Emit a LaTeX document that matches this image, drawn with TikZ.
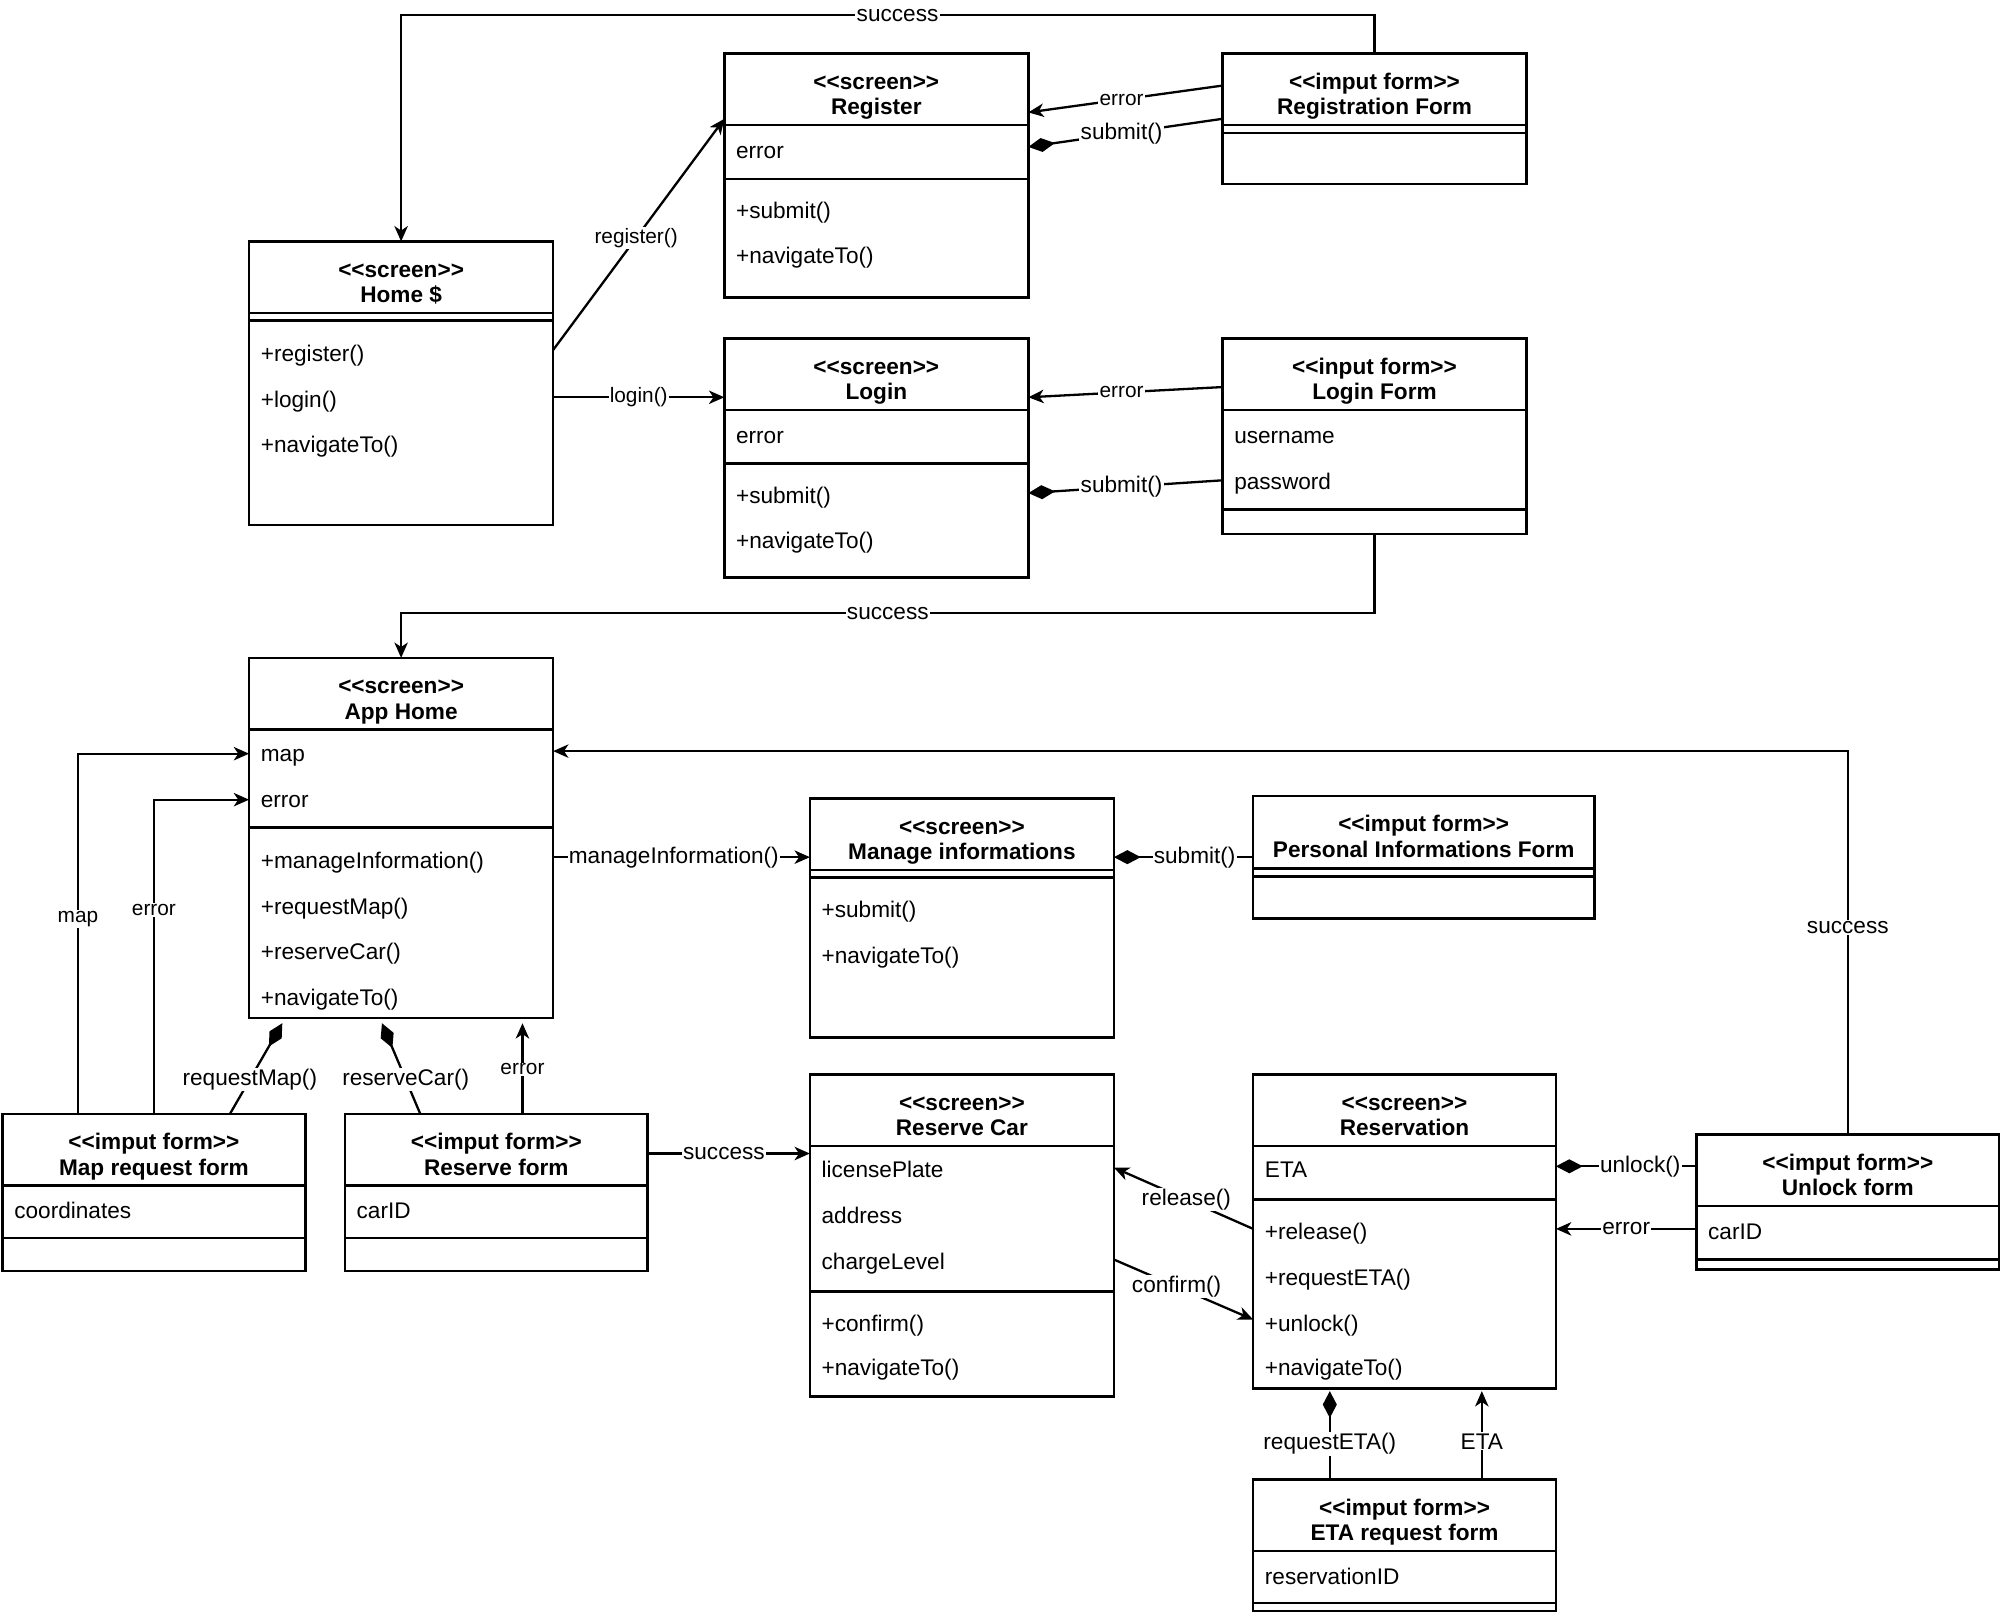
\documentclass[tikz,border=0pt]{standalone}
\usepackage{fontspec}
\setmainfont{Liberation Sans}
\usetikzlibrary{arrows.meta}
\newcommand\stereo[1]{<\kern0pt<#1>\kern0pt>}
\newcommand\fsmain{\fontsize{17.7}{21}\selectfont}
\newcommand\fslbl{\fontsize{16.3}{19}\selectfont}
\newcommand\umlbox[7]{%
  \node[box, minimum width=#4pt, minimum height=#5pt] (#1) at (#2,#3) {};
  \node[ttl] (#1-s) at ({#2+#4/2},{#3+28}) {\stereo{#6}};
  \node[ttl] (#1-n) at ({#2+#4/2},{#3+48}) {#7};
}
\newcommand\sepl[3]{\draw[sep] (#1,#3) -- ++(#2,0);}
\newcommand\row[4]{\node[item] (#1) at ({#2+9},{#3+6}) {#4};}
\begin{document}
\begin{tikzpicture}[x=1pt,y=-1pt,
  box/.style={draw, line width=2pt, anchor=north west, inner sep=0pt, outer sep=0pt},
  sep/.style={line width=2pt},
  ttl/.style={font=\bfseries\fsmain, anchor=base, inner sep=0pt},
  item/.style={font=\fsmain, anchor=base west, inner sep=0pt},
  conn/.style={line width=1.8pt},
  arr/.style={conn, -{Stealth[length=12pt,width=10.5pt,inset=3.5pt]}},
  dia/.style={conn, -{Diamond[length=21pt,width=11pt]}},
  lbl/.style={fill=white, inner sep=1pt, font=\fsmain},
  slbl/.style={fill=white, inner sep=1pt, font=\fslbl},
]
\useasboundingbox (0,0) rectangle (1568,1265);

% ---------- classes ----------
\umlbox{home}{195}{189}{238}{222}{screen}{Home \$}
\sepl{195}{238}{245}\sepl{195}{238}{251}
\row{home-1}{195}{277}{+register()}
\row{home-2}{195}{313}{+login()}
\row{home-3}{195}{348}{+navigateTo()}

\umlbox{reg}{567}{42}{238}{191}{screen}{Register}
\sepl{567}{238}{98}\sepl{567}{238}{140}
\row{reg-1}{567}{118}{error}
\row{reg-2}{567}{165}{+submit()}
\row{reg-3}{567}{200}{+navigateTo()}

\umlbox{rf}{957}{42}{238}{102}{imput form}{Registration Form}
\sepl{957}{238}{98}\sepl{957}{238}{104}

\umlbox{login}{567}{265}{238}{187}{screen}{Login}
\sepl{567}{238}{321}\sepl{567}{238}{363}
\row{login-1}{567}{341}{error}
\row{login-2}{567}{388}{+submit()}
\row{login-3}{567}{423}{+navigateTo()}

\umlbox{lf}{957}{265}{238}{153}{input form}{Login Form}
\sepl{957}{238}{321}\sepl{957}{238}{399}
\row{lf-1}{957}{341}{username}
\row{lf-2}{957}{377}{password}

\umlbox{app}{195}{515}{238}{282}{screen}{App Home}
\sepl{195}{238}{571}\sepl{195}{238}{648}
\row{app-1}{195}{590}{map}
\row{app-2}{195}{626}{error}
\row{app-3}{195}{674}{+manageInformation()}
\row{app-4}{195}{710}{+requestMap()}
\row{app-5}{195}{745}{+reserveCar()}
\row{app-6}{195}{781}{+navigateTo()}

\umlbox{mi}{634}{625}{238}{187}{screen}{Manage informations}
\sepl{634}{238}{681}\sepl{634}{238}{687}
\row{mi-1}{634}{712}{+submit()}
\row{mi-2}{634}{748}{+navigateTo()}

\umlbox{pif}{981}{623}{267}{96}{imput form}{Personal Informations Form}
\sepl{981}{267}{680}\sepl{981}{267}{686}

\umlbox{mrf}{2}{872}{237}{123}{imput form}{Map request form}
\sepl{2}{237}{928}\sepl{2}{237}{969}
\row{mrf-1}{2}{948}{coordinates}

\umlbox{rsf}{270}{872}{237}{123}{imput form}{Reserve form}
\sepl{270}{237}{928}\sepl{270}{237}{969}
\row{rsf-1}{270}{948}{carID}

\umlbox{rc}{634}{841}{238}{252}{screen}{Reserve Car}
\sepl{634}{238}{897}\sepl{634}{238}{1011}
\row{rc-1}{634}{916}{licensePlate}
\row{rc-2}{634}{952}{address}
\row{rc-3}{634}{988}{chargeLevel}
\row{rc-4}{634}{1036}{+confirm()}
\row{rc-5}{634}{1071}{+navigateTo()}

\umlbox{rsv}{981}{841}{237}{246}{screen}{Reservation}
\sepl{981}{237}{897}\sepl{981}{237}{939}
\row{rsv-1}{981}{916}{ETA}
\row{rsv-2}{981}{964}{+release()}
\row{rsv-3}{981}{1000}{+requestETA()}
\row{rsv-4}{981}{1036}{+unlock()}
\row{rsv-5}{981}{1071}{+navigateTo()}

\umlbox{ulf}{1328}{888}{237}{106}{imput form}{Unlock form}
\sepl{1328}{237}{944}\sepl{1328}{237}{986}
\row{ulf-1}{1328}{964}{carID}

\umlbox{etaf}{981}{1158}{237}{103}{imput form}{ETA request form}
\sepl{981}{237}{1214}\sepl{981}{237}{1255}
\row{etaf-1}{981}{1234}{reservationID}

% ---------- helper coordinates ----------
\coordinate (m1) at ([xshift=59pt]mrf.north west);
\coordinate (m3) at ([xshift=178pt]mrf.north west);
\coordinate (r1) at ([xshift=59pt]rsf.north west);
\coordinate (r3) at ([xshift=139pt]rsf.north west);
\coordinate (a1) at ([shift={(26pt,-4pt)}]app.south west);
\coordinate (a2) at ([shift={(104pt,-4pt)}]app.south west);
\coordinate (a3) at ([shift={(214pt,-4pt)}]app.south west);
\coordinate (e1) at ([xshift=60pt]etaf.north west);
\coordinate (e2) at ([xshift=179pt]etaf.north west);
\coordinate (v1) at ([shift={(60pt,-2pt)}]rsv.south west);
\coordinate (v2) at ([shift={(179pt,-2pt)}]rsv.south west);

% ---------- connectors ----------
\draw[arr] (rf.north) -- (rf.north |- 0,12) -- node[lbl,pos=.49] (c1) {success} (home.north |- 0,12) -- (home.north);
\draw[arr] (home.east |- 0,274) -- node[slbl,pos=.485] (c2) {register()} (reg.west |- 0,93);
\draw[arr] (home.east |- 0,311) -- node[slbl] (c3) {login()} (login.west |- 0,311);
\draw[arr] (rf.west |- 0,67) -- node[slbl,pos=.52] (c4) {error} (reg.east |- 0,88);
\draw[dia] (rf.west |- 0,93) -- node[lbl,pos=.52] (c5) {submit()} (reg.east |- 0,115);
\draw[arr] (lf.west |- 0,303) -- node[slbl,pos=.52] (c6) {error} (login.east |- 0,311);
\draw[dia] (lf.west |- 0,376) -- node[lbl,pos=.52] (c7) {submit()} (login.east |- 0,386);
\draw[arr] (lf.south) -- (lf.south |- 0,480) -- node[lbl,pos=.5] (c8) {success} (app.north |- 0,480) -- (app.north);
\draw[arr] (app.east |- 0,671) -- node[lbl,pos=.47] (c9) {manageInformation()} (mi.west |- 0,671);
\draw[dia] (pif.west |- 0,671) -- node[lbl,pos=.42] (c10) {submit()} (mi.east |- 0,671);
\draw[arr] (ulf.north) -- node[lbl,pos=.54] (c11) {success} (ulf.north |- 0,588) -- (app.east |- 0,588);
\draw[arr] (m1) -- node[slbl,pos=.54] (c12) {map} (m1 |- 0,590) -- (app.west |- 0,590);
\draw[arr] (mrf.north) -- node[slbl,pos=.65] (c13) {error} (mrf.north |- 0,626) -- (app.west |- 0,626);
\draw[dia] (m3) -- node[lbl,pos=.38] (c14) {requestMap()} (a1);
\draw[dia] (r1) -- node[lbl,pos=.38] (c15) {reserveCar()} (a2);
\draw[arr] (r3) -- node[slbl,pos=.49] (c16) {error} (a3);
\draw[arr] (rsf.east |- 0,903) -- node[lbl,pos=.47] (c17) {success} (rc.west |- 0,903);
\draw[arr] (rsv.west |- 0,962) -- node[lbl,pos=.48] (c18) {release()} (rc.east |- 0,914);
\draw[arr] (rc.east |- 0,986) -- node[lbl,pos=.45] (c19) {confirm()} (rsv.west |- 0,1033);
\draw[dia] (ulf.west |- 0,913) -- node[lbl,pos=.4] (c20) {unlock()} (rsv.east |- 0,913);
\draw[arr] (ulf.west |- 0,962) -- node[lbl,pos=.5] (c21) {error} (rsv.east |- 0,962);
\draw[dia] (e1) -- node[lbl,pos=.4] (c22) {requestETA()} (v1);
\draw[arr] (e2) -- node[lbl,pos=.43] (c23) {ETA} (v2);
\end{tikzpicture}
\end{document}
